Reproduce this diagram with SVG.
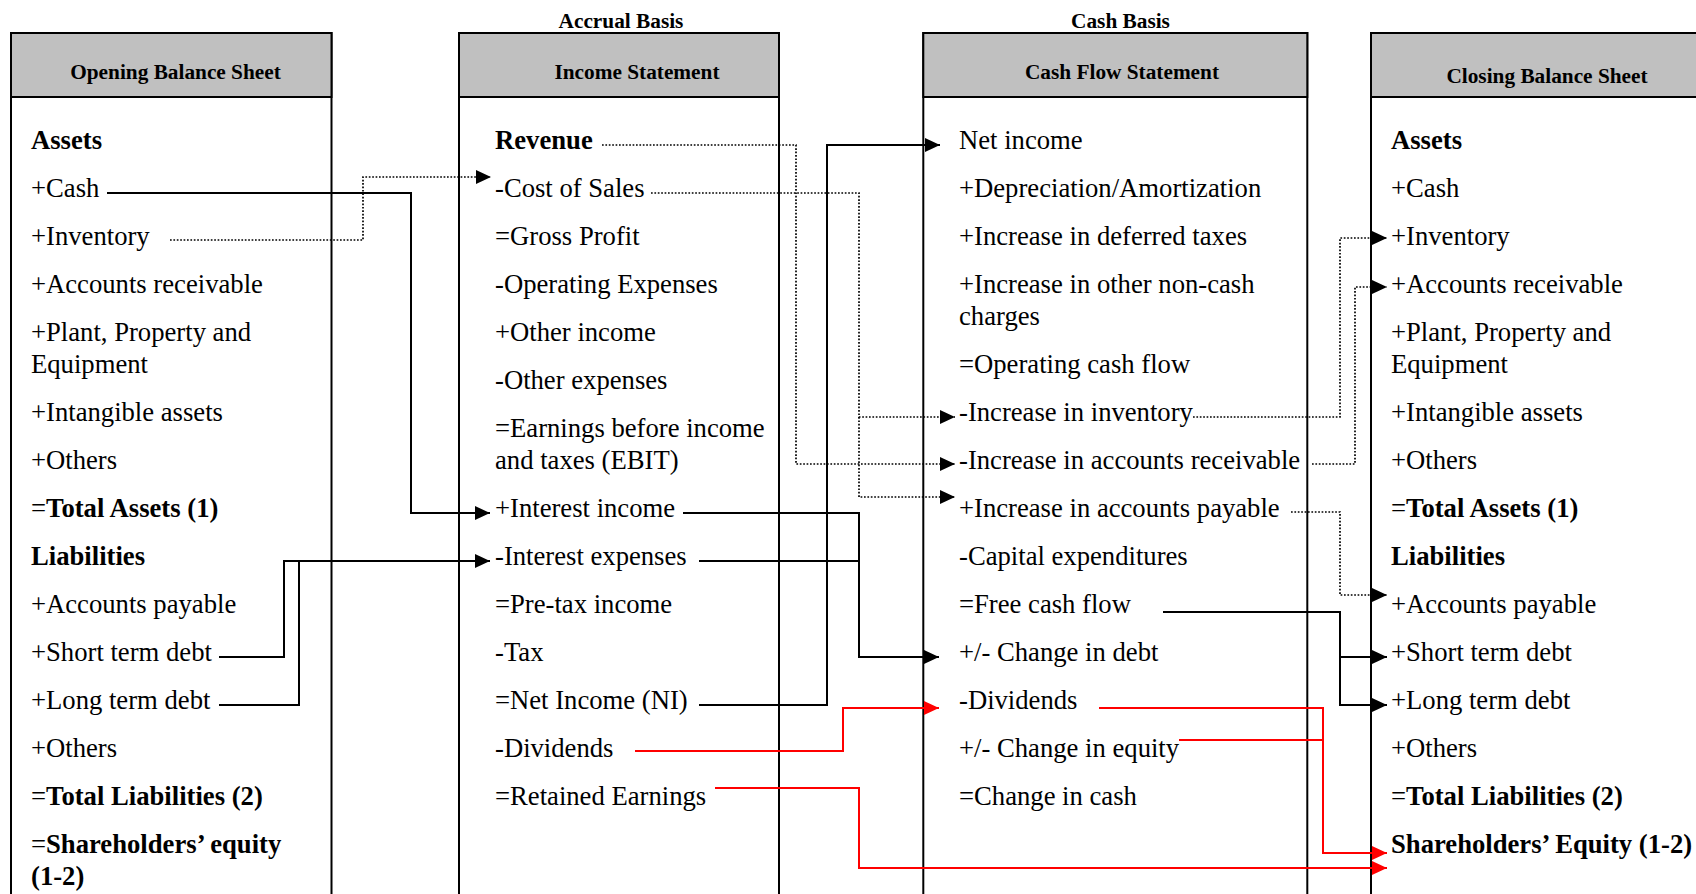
<svg xmlns="http://www.w3.org/2000/svg" width="1696" height="894" viewBox="0 0 1696 894">
<style>
.box{fill:#fff;stroke:#000;stroke-width:2}
.hdr{fill:#c0c0c0;stroke:#000;stroke-width:2}
.ht{font-family:"Liberation Serif","Times New Roman",serif;font-weight:bold;font-size:21.3px;fill:#000;text-anchor:middle}
.t{font-family:"Liberation Serif","Times New Roman",serif;font-size:26.67px;fill:#000}
.b{font-weight:bold}
.c{fill:none;stroke:#000;stroke-width:2}
.d{fill:none;stroke:#000;stroke-width:1.7;stroke-dasharray:1.7 1.7}
.r{fill:none;stroke:#ff0000;stroke-width:2}
</style>
<defs>
<marker id="ab" viewBox="0 0 15 14" refX="15" refY="7" markerWidth="15" markerHeight="14" markerUnits="userSpaceOnUse" orient="auto"><path d="M0,0 L15,7 L0,14 z" fill="#000"/></marker>
<marker id="ar" viewBox="0 0 15 14" refX="15" refY="7" markerWidth="15" markerHeight="14" markerUnits="userSpaceOnUse" orient="auto"><path d="M0,0 L15,7 L0,14 z" fill="#ff0000"/></marker>
</defs>
<rect width="1696" height="894" fill="#fff"/>

<g id="opening">
<rect class="box" x="11" y="33" width="320.5" height="880"/>
<rect class="hdr" x="11" y="33" width="320.5" height="64"/>
<text class="ht" x="175.5" y="78.5">Opening Balance Sheet</text>
<text class="t b" x="31" y="148.5">Assets</text>
<text class="t" x="31" y="196.5">+Cash</text>
<text class="t" x="31" y="244.5">+Inventory</text>
<text class="t" x="31" y="292.5">+Accounts receivable</text>
<text class="t" x="31" y="340.5">+Plant, Property and</text>
<text class="t" x="31" y="372.5">Equipment</text>
<text class="t" x="31" y="420.5">+Intangible assets</text>
<text class="t" x="31" y="468.5">+Others</text>
<text class="t" x="31" y="516.5">=<tspan class="b">Total Assets (1)</tspan></text>
<text class="t b" x="31" y="564.5">Liabilities</text>
<text class="t" x="31" y="612.5">+Accounts payable</text>
<text class="t" x="31" y="660.5">+Short term debt</text>
<text class="t" x="31" y="708.5">+Long term debt</text>
<text class="t" x="31" y="756.5">+Others</text>
<text class="t" x="31" y="804.5">=<tspan class="b">Total Liabilities (2)</tspan></text>
<text class="t" x="31" y="852.5">=<tspan class="b">Shareholders’ equity</tspan></text>
<text class="t b" x="31" y="884.5">(1-2)</text>
</g>

<g id="income">
<text class="ht" x="621" y="27.5">Accrual Basis</text>
<rect class="box" x="459" y="33" width="320" height="880"/>
<rect class="hdr" x="459" y="33" width="320" height="64"/>
<text class="ht" x="637" y="78.5">Income Statement</text>
<text class="t b" x="495" y="148.5">Revenue</text>
<text class="t" x="495" y="196.5">-Cost of Sales</text>
<text class="t" x="495" y="244.5">=Gross Profit</text>
<text class="t" x="495" y="292.5">-Operating Expenses</text>
<text class="t" x="495" y="340.5">+Other income</text>
<text class="t" x="495" y="388.5">-Other expenses</text>
<text class="t" x="495" y="436.5">=Earnings before income</text>
<text class="t" x="495" y="468.5">and taxes (EBIT)</text>
<text class="t" x="495" y="516.5">+Interest income</text>
<text class="t" x="495" y="564.5">-Interest expenses</text>
<text class="t" x="495" y="612.5">=Pre-tax income</text>
<text class="t" x="495" y="660.5">-Tax</text>
<text class="t" x="495" y="708.5">=Net Income (NI)</text>
<text class="t" x="495" y="756.5">-Dividends</text>
<text class="t" x="495" y="804.5">=Retained Earnings</text>
</g>

<g id="cashflow">
<text class="ht" x="1120.5" y="27.5">Cash Basis</text>
<rect class="box" x="923.3" y="33" width="384" height="880"/>
<rect class="hdr" x="923.3" y="33" width="384" height="64"/>
<text class="ht" x="1122" y="78.5">Cash Flow Statement</text>
<text class="t" x="959" y="148.5">Net income</text>
<text class="t" x="959" y="196.5">+Depreciation/Amortization</text>
<text class="t" x="959" y="244.5">+Increase in deferred taxes</text>
<text class="t" x="959" y="292.5">+Increase in other non-cash</text>
<text class="t" x="959" y="324.5">charges</text>
<text class="t" x="959" y="372.5">=Operating cash flow</text>
<text class="t" x="959" y="420.5">-Increase in inventory</text>
<text class="t" x="959" y="468.5">-Increase in accounts receivable</text>
<text class="t" x="959" y="516.5">+Increase in accounts payable</text>
<text class="t" x="959" y="564.5">-Capital expenditures</text>
<text class="t" x="959" y="612.5">=Free cash flow</text>
<text class="t" x="959" y="660.5">+/- Change in debt</text>
<text class="t" x="959" y="708.5">-Dividends</text>
<text class="t" x="959" y="756.5">+/- Change in equity</text>
<text class="t" x="959" y="804.5">=Change in cash</text>
</g>

<g id="closing">
<rect class="box" x="1371" y="33" width="360" height="880"/>
<rect class="hdr" x="1371" y="33" width="360" height="64"/>
<text class="ht" x="1547" y="82.7">Closing Balance Sheet</text>
<text class="t b" x="1391" y="148.5">Assets</text>
<text class="t" x="1391" y="196.5">+Cash</text>
<text class="t" x="1391" y="244.5">+Inventory</text>
<text class="t" x="1391" y="292.5">+Accounts receivable</text>
<text class="t" x="1391" y="340.5">+Plant, Property and</text>
<text class="t" x="1391" y="372.5">Equipment</text>
<text class="t" x="1391" y="420.5">+Intangible assets</text>
<text class="t" x="1391" y="468.5">+Others</text>
<text class="t" x="1391" y="516.5">=<tspan class="b">Total Assets (1)</tspan></text>
<text class="t b" x="1391" y="564.5">Liabilities</text>
<text class="t" x="1391" y="612.5">+Accounts payable</text>
<text class="t" x="1391" y="660.5">+Short term debt</text>
<text class="t" x="1391" y="708.5">+Long term debt</text>
<text class="t" x="1391" y="756.5">+Others</text>
<text class="t" x="1391" y="804.5">=<tspan class="b">Total Liabilities (2)</tspan></text>
<text class="t b" x="1391" y="852.5">Shareholders’ Equity (1-2)</text>
</g>

<g id="connectors">
<path class="c" d="M107,193 H411 V513 H490" marker-end="url(#ab)"/>
<path class="d" d="M170,240 H363 V177 H491" marker-end="url(#ab)"/>
<path class="d" d="M602,145 H796 V464 H955" marker-end="url(#ab)"/>
<path class="d" d="M651,193 H859 V417 H955" marker-end="url(#ab)"/>
<path class="d" d="M859,417 V497 H955" marker-end="url(#ab)"/>
<path class="c" d="M699,705 H827 V145 H940" marker-end="url(#ab)"/>
<path class="c" d="M683,513 H859 V657 H939" marker-end="url(#ab)"/>
<path class="c" d="M699,561 H859"/>
<path class="c" d="M219,657 H284 V561 H490" marker-end="url(#ab)"/>
<path class="c" d="M219,705 H299 V561"/>
<path class="r" d="M635,751 H843 V708 H939" marker-end="url(#ar)"/>
<path class="r" d="M715,788 H859 V868 H1387" marker-end="url(#ar)"/>
<path class="r" d="M1099,708 H1323 V853 H1387" marker-end="url(#ar)"/>
<path class="r" d="M1179,740 H1323"/>
<path class="c" d="M1163,612 H1340 V657 H1387" marker-end="url(#ab)"/>
<path class="c" d="M1340,657 V705 H1387" marker-end="url(#ab)"/>
<path class="d" d="M1193,417 H1340 V238 H1387" marker-end="url(#ab)"/>
<path class="d" d="M1312,464 H1355 V287 H1387" marker-end="url(#ab)"/>
<path class="d" d="M1291,512 H1340 V595 H1387" marker-end="url(#ab)"/>
</g>
</svg>
